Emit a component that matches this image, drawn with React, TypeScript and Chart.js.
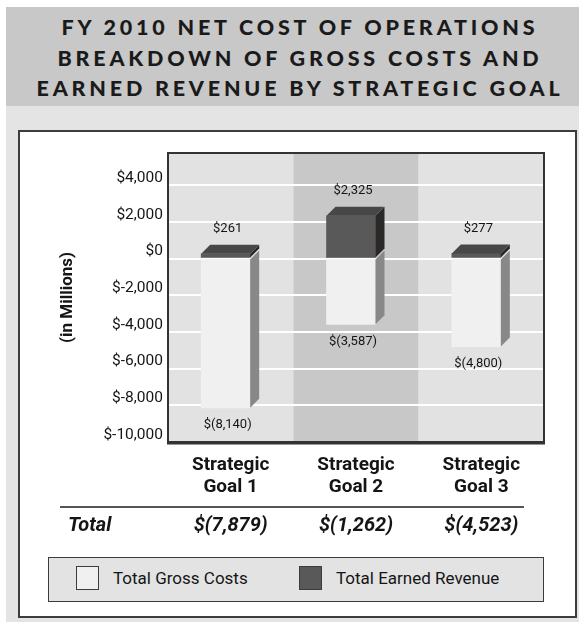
import React, { useEffect, useRef } from 'react';
import { Chart, registerables } from 'chart.js';

Chart.register(...registerables);

// ---------- data ----------
const categories = [['Strategic', 'Goal 1'], ['Strategic', 'Goal 2'], ['Strategic', 'Goal 3']];
const grossCosts = [-8140, -3587, -4800];
const earnedRevenue = [261, 2325, 277];
const netTotals = [-7879, -1262, -4523];
const yTickValues = [-10000, -8000, -6000, -4000, -2000, 0, 2000, 4000];
const yTickLabels = ['$-10,000', '$-8,000', '$-6,000', '$-4,000', '$-2,000', '$0', '$2,000', '$4,000'];
const seriesNames = ['Total Gross Costs', 'Total Earned Revenue'];
const titleLines = ['FY 2010 NET COST OF OPERATIONS', 'BREAKDOWN OF GROSS COSTS AND', 'EARNED REVENUE BY STRATEGIC GOAL'];
const yAxisTitle = '(in Millions)';
const totalLabel = 'Total';

// ---------- styles ----------
const FONT = 'Roboto, "Liberation Sans", sans-serif';
const CANVAS_LEFT = 20;
const CANVAS_TOP = 132;
const CANVAS_W = 554;
const CANVAS_H = 410;
const BAND_COLORS = ['#e2e2e2', '#c8c8c8', '#e2e2e2'];
const GROSS_FRONT = '#f0f0f0';
const GROSS_SIDE = '#888888';
const REV_FRONT = '#595959';
const REV_SIDE = '#2b2927';
const REV_TOP = '#474747';
const TEXT = '#151515';
const DX = 9;
const DY = 9;
const SHIFT = -5;

const fmt = (v: number) =>
  v < 0 ? `$(${Math.abs(v).toLocaleString('en-US')})` : `$${v.toLocaleString('en-US')}`;

function poly(ctx: CanvasRenderingContext2D, pts: number[][], color: string) {
  ctx.beginPath();
  ctx.moveTo(pts[0][0], pts[0][1]);
  for (let i = 1; i < pts.length; i++) ctx.lineTo(pts[i][0], pts[i][1]);
  ctx.closePath();
  ctx.fillStyle = color;
  ctx.fill();
}

const bandPlugin = {
  id: 'bands',
  beforeDraw(chart: any) {
    const { ctx, chartArea } = chart;
    const n = categories.length;
    const w = chartArea.width / n;
    ctx.save();
    for (let i = 0; i < n; i++) {
      ctx.fillStyle = BAND_COLORS[i % BAND_COLORS.length];
      ctx.fillRect(chartArea.left + i * w, chartArea.top, w, chartArea.height);
    }
    ctx.restore();
  },
};

const bar3DPlugin = {
  id: 'bar3d',
  beforeDatasetsDraw(chart: any) {
    chart.ctx.save();
    chart.ctx.translate(SHIFT, 0);
  },
  afterDatasetsDraw(chart: any) {
    const ctx = chart.ctx;
    const metaG = chart.getDatasetMeta(0);
    const metaR = chart.getDatasetMeta(1);
    metaG.data.forEach((el: any) => {
      const { x, y, base, width } = el.getProps(['x', 'y', 'base', 'width'], true);
      const R = x + width / 2;
      const top = Math.min(y, base);
      const bottom = Math.max(y, base);
      poly(ctx, [[R, top], [R + DX, top - DY], [R + DX, bottom - DY], [R, bottom]], GROSS_SIDE);
    });
    metaR.data.forEach((el: any) => {
      const { x, y, base, width } = el.getProps(['x', 'y', 'base', 'width'], true);
      const L = x - width / 2;
      const R = x + width / 2;
      const top = Math.min(y, base);
      const bottom = Math.max(y, base);
      poly(ctx, [[R, top], [R + DX, top - DY], [R + DX, bottom - DY], [R, bottom]], REV_SIDE);
      poly(ctx, [[L, top], [L + DX, top - DY], [R + DX, top - DY], [R, top]], REV_TOP);
    });
    ctx.fillStyle = TEXT;
    ctx.font = `13px ${FONT}`;
    ctx.textAlign = 'center';
    ctx.textBaseline = 'middle';
    metaG.data.forEach((el: any, i: number) => {
      const { x, y, base } = el.getProps(['x', 'y', 'base'], true);
      const bottom = Math.max(y, base);
      ctx.fillText(fmt(grossCosts[i]), x + 2, bottom + 17);
    });
    metaR.data.forEach((el: any, i: number) => {
      const { x, y, base } = el.getProps(['x', 'y', 'base'], true);
      const top = Math.min(y, base);
      ctx.fillText(fmt(earnedRevenue[i]), x + 2, top - DY - 16);
    });
    ctx.restore();
  },
  afterDraw(chart: any) {
    const { ctx, chartArea, scales } = chart;
    ctx.save();
    ctx.strokeStyle = '#333';
    ctx.lineWidth = 2;
    ctx.strokeRect(chartArea.left, chartArea.top, chartArea.width, chartArea.height);
    ctx.beginPath();
    ctx.moveTo(chartArea.left - 1, chartArea.bottom + 1.5);
    ctx.lineTo(chartArea.right + 1, chartArea.bottom + 1.5);
    ctx.stroke();
    // separator line
    const sepY = 507 - CANVAS_TOP;
    ctx.fillStyle = '#555';
    ctx.fillRect(60 - CANVAS_LEFT, sepY - 1, 464, 2);
    // totals row
    ctx.fillStyle = TEXT;
    ctx.font = `italic bold 20px ${FONT}`;
    ctx.textBaseline = 'alphabetic';
    ctx.textAlign = 'left';
    const baseY = 530.5 - CANVAS_TOP;
    ctx.fillText(totalLabel, 68 - CANVAS_LEFT, baseY);
    ctx.textAlign = 'center';
    netTotals.forEach((v, i) => {
      ctx.fillText(fmt(v), scales.x.getPixelForValue(i), baseY);
    });
    ctx.restore();
  },
};

function ChartCanvas() {
  const ref = useRef<HTMLCanvasElement>(null);
  useEffect(() => {
    if (!ref.current) return;
    const chart = new Chart(ref.current, {
      type: 'bar',
      data: {
        labels: categories as any,
        datasets: [
          {
            label: seriesNames[0],
            data: grossCosts,
            backgroundColor: GROSS_FRONT,
            borderWidth: 0,
            barThickness: 49,
          },
          {
            label: seriesNames[1],
            data: earnedRevenue,
            backgroundColor: REV_FRONT,
            borderWidth: 0,
            barThickness: 49,
          },
        ],
      },
      options: {
        responsive: false,
        animation: false,
        devicePixelRatio: 1,
        layout: { padding: { left: 0, top: 21, right: 30, bottom: 0 } },
        plugins: {
          legend: { display: false },
          tooltip: { enabled: false },
        },
        scales: {
          x: {
            stacked: true,
            grid: { display: false, drawTicks: false },
            border: { display: false },
            ticks: {
              color: TEXT,
              font: { family: FONT, size: 19, weight: 'bold', lineHeight: 1.12 },
              padding: 13,
              maxRotation: 0,
              autoSkip: false,
            },
            afterFit: (s: any) => {
              s.height = 100;
            },
          },
          y: {
            stacked: true,
            min: -10000,
            max: 5750,
            afterBuildTicks: (s: any) => {
              s.ticks = yTickValues.map((v) => ({ value: v }));
            },
            afterFit: (s: any) => {
              s.width = 148;
            },
            grid: { color: '#ffffff', lineWidth: 2, drawTicks: false },
            border: { display: false },
            ticks: {
              color: TEXT,
              font: { family: FONT, size: 15.5 },
              padding: 5,
              labelOffset: -7,
              callback: (value: any) => {
                const idx = yTickValues.indexOf(Number(value));
                return idx >= 0 ? yTickLabels[idx] : '';
              },
            },
            title: {
              display: true,
              text: yAxisTitle,
              color: TEXT,
              font: { family: FONT, size: 17, weight: 'bold' },
              padding: { top: 38, bottom: 0 },
            },
          },
        },
      },
      plugins: [bandPlugin, bar3DPlugin],
    });
    return () => chart.destroy();
  }, []);
  return (
    <canvas
      ref={ref}
      width={CANVAS_W}
      height={CANVAS_H}
      style={{ position: 'absolute', left: CANVAS_LEFT, top: CANVAS_TOP, width: CANVAS_W, height: CANVAS_H }}
    />
  );
}

export default function App() {
  const titleTops = [16.5, 47.5, 77.5];
  return (
    <div style={{ position: 'absolute', left: 0, top: 0, width: 579, height: 622, overflow: 'hidden', background: '#fff' }}>
      <div style={{ position: 'absolute', left: 6, top: 7, width: 573, height: 615, background: '#e4e4e4' }} />
      <div style={{ position: 'absolute', left: 6, top: 7, width: 573, height: 99, background: '#c8c8c8' }} />
      {titleLines.map((t, i) => (
        <div
          key={i}
          style={{
            position: 'absolute',
            left: 0,
            top: titleTops[i],
            width: 600,
            textAlign: 'center',
            fontFamily: 'Lato, "Open Sans", sans-serif',
            fontWeight: 900,
            fontSize: 21.5,
            lineHeight: '21.5px',
            letterSpacing: '3.8px',
            color: '#1a1a1a',
            whiteSpace: 'nowrap',
          }}
        >
          {t}
        </div>
      ))}
      <div
        style={{
          position: 'absolute',
          left: 18,
          top: 130,
          width: 559,
          height: 488,
          boxSizing: 'border-box',
          border: '2px solid #3c3c3c',
          background: '#fff',
        }}
      />
      <ChartCanvas />
      <div
        style={{
          position: 'absolute',
          left: 48,
          top: 557,
          width: 496,
          height: 45,
          boxSizing: 'border-box',
          border: '1.5px solid #3c3c3c',
          background: '#e3e3e3',
        }}
      />
      {seriesNames.map((name, i) => {
        const sx = i === 0 ? 76 : 299;
        return (
          <React.Fragment key={name}>
            <div
              style={{
                position: 'absolute',
                left: sx,
                top: 566,
                width: 23,
                height: 24,
                boxSizing: 'border-box',
                border: '1.5px solid #3c3c3c',
                background: i === 0 ? GROSS_FRONT : REV_FRONT,
              }}
            />
            <div
              style={{
                position: 'absolute',
                left: sx + 37,
                top: 570,
                fontFamily: FONT,
                fontSize: 17,
                lineHeight: '17px',
                color: TEXT,
                whiteSpace: 'nowrap',
              }}
            >
              {name}
            </div>
          </React.Fragment>
        );
      })}
    </div>
  );
}
